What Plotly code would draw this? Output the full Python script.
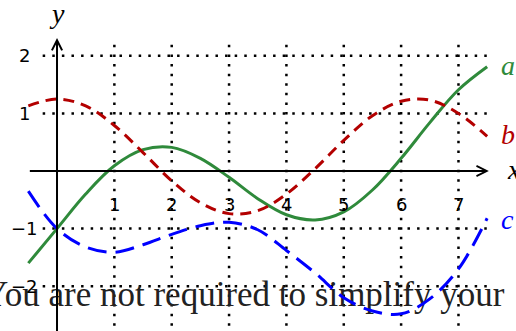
import plotly.graph_objects as go

# sample points
x_vals = [-0.5, 0, 0.5, 1, 1.5, 2, 2.5, 3, 3.5, 4, 4.5, 5, 5.5, 6, 6.5, 7, 7.5]
a_vals = [-1.60, -1.00, -0.40, 0.09, 0.37, 0.41, 0.22, -0.11, -0.48, -0.76,
          -0.85, -0.71, -0.33, 0.22, 0.84, 1.41, 1.81]
b_vals = [1.13, 1.25, 1.13, 0.79, 0.32, -0.17, -0.55, -0.74, -0.69, -0.40,
          0.04, 0.53, 0.96, 1.21, 1.23, 1.00, 0.60]
c_vals = [-0.35, -1.00, -1.32, -1.41, -1.28, -1.10, -0.95, -0.89, -1.02, -1.38,
          -1.77, -2.20, -2.43, -2.48, -2.22, -1.70, -0.82]

x_ticks = [1, 2, 3, 4, 5, 6, 7]
y_ticks = [2, 1, -1, -2]
y_tick_text = ['2', '1', '\u22121', '\u22122']

series_names = ['a', 'b', 'c']
series_colors = ['#2f8a3b', '#b30000', '#0000ff']
series_dash = ['solid', '11px,7px', '19px,9px']

overlay_text = 'You are not required to simplify your'

fig = go.Figure()

# the stray line of text sits underneath the curves
fig.add_trace(go.Scatter(x=[7.80], y=[-2.19], mode='text', text=[overlay_text],
                         textposition='middle left',
                         textfont=dict(family='Liberation Serif', size=35, color='#222'),
                         hoverinfo='skip'))

for name, ys, col, dsh in zip(series_names, [a_vals, b_vals, c_vals], series_colors, series_dash):
    fig.add_trace(go.Scatter(x=x_vals, y=ys, mode='lines', name=name,
                             line=dict(color=col, width=3, dash=dsh, shape='spline', smoothing=1)))

# dotted grid
grid = dict(color='black', width=2.5, dash='2.5px,7.1px')
for xv in x_ticks:
    fig.add_shape(type='line', x0=xv, x1=xv, y0=2.19, y1=-3.2, line=grid, layer='below')
for yv in y_ticks:
    fig.add_shape(type='line', x0=-0.25, x1=7.5, y0=yv, y1=yv, line=grid, layer='below')

# axes with arrows
fig.add_annotation(x=7.53, y=0, ax=-0.5, ay=0, axref='x', ayref='y', text='',
                   showarrow=True, arrowhead=5, arrowwidth=2, arrowsize=1,
                   arrowcolor='black', standoff=0)
fig.add_annotation(x=0, y=2.31, ax=0, ay=-3.2, axref='x', ayref='y', text='',
                   showarrow=True, arrowhead=5, arrowwidth=2, arrowsize=1,
                   arrowcolor='black', standoff=0)

tick_font = dict(family='DejaVu Sans', size=18, color='black')
for xv in x_ticks:
    fig.add_annotation(x=xv, y=-0.59, text=str(xv), showarrow=False, font=tick_font)
for yv, t in zip(y_ticks, y_tick_text):
    fig.add_annotation(x=-0.575, y=yv, text=t, showarrow=False, font=tick_font)

lab_font = dict(family='Liberation Serif', size=28)
fig.add_annotation(x=0, y=2.73, text='<i>y</i>', showarrow=False,
                   font=dict(lab_font, color='black'))
fig.add_annotation(x=7.97, y=0.02, text='<i>x</i>', showarrow=False,
                   font=dict(lab_font, color='black'))
for name, col, yv in zip(series_names, series_colors, [1.84, 0.64, -0.84]):
    fig.add_annotation(x=7.86, y=yv, text='<i>' + name + '</i>', showarrow=False,
                       font=dict(lab_font, color=col))

fig.update_layout(width=516, height=331, margin=dict(l=0, r=0, t=0, b=0),
                  paper_bgcolor='white', plot_bgcolor='white', showlegend=False,
                  xaxis=dict(range=[-0.994, 8.003], visible=False),
                  yaxis=dict(range=[-2.778, 2.969], visible=False))

# drop the page's default body margin so the figure fills the window
fig.write_html("out.html", config={'displayModeBar': False},
               post_script="document.body.style.margin='0px';")
